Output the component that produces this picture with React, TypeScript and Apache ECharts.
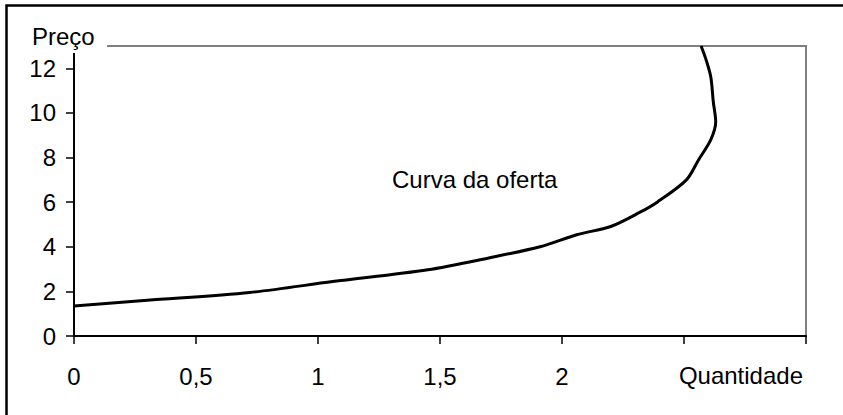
import React, { useEffect, useRef } from "react";
import * as echarts from "echarts";

const quantity: number[] = [0, 0.3, 0.72, 1.06, 1.45, 1.7, 1.91, 2.06, 2.2, 2.32, 2.39, 2.51, 2.56, 2.61, 2.63, 2.62, 2.61, 2.59, 2.57];
const price: number[] = [1.35, 1.6, 1.95, 2.44, 2.97, 3.5, 4.0, 4.54, 4.91, 5.55, 6.0, 7.0, 7.9, 8.8, 9.6, 10.5, 11.6, 12.4, 13];
const xTickLabels: Record<string, string> = { "0": "0", "0.5": "0,5", "1": "1", "1.5": "1,5", "2": "2" };
const yAxisTitle = "Preço";
const xAxisTitle = "Quantidade";
const curveLabel = "Curva da oferta";

const FONT = "'Liberation Sans', Arial, sans-serif";
const FS = 24;

export default function App() {
  const ref = useRef<HTMLDivElement>(null);
  useEffect(() => {
    if (!ref.current) return;
    const chart = echarts.init(ref.current, undefined, { renderer: "svg" });
    const data = quantity.map((q, i) => [q, price[i]]);
    chart.setOption({
      animation: false,
      backgroundColor: "#ffffff",
      textStyle: { fontFamily: FONT },
      grid: {
        left: 74,
        right: 37,
        top: 46,
        bottom: 79,
        show: true,
        borderColor: "#808080",
        borderWidth: 2,
        backgroundColor: "transparent",
      },
      xAxis: {
        type: "value",
        min: 0,
        max: 3,
        interval: 0.5,
        splitLine: { show: false },
        axisLine: { show: true, onZero: false, lineStyle: { color: "#000", width: 2 } },
        axisTick: { show: true, length: 8, lineStyle: { color: "#000", width: 1.5 } },
        axisLabel: {
          color: "#000",
          fontSize: FS,
          fontFamily: FONT,
          margin: 28,
          formatter: (v: number) => xTickLabels[String(v)] ?? "",
        },
        name: xAxisTitle,
        nameLocation: "end",
        nameGap: -3,
        nameTextStyle: {
          color: "#000",
          fontSize: FS,
          fontFamily: FONT,
          align: "right",
          verticalAlign: "top",
          padding: [27, 0, 0, 0],
        },
      },
      yAxis: {
        type: "value",
        min: 0,
        max: 13,
        interval: 2,
        splitLine: { show: false },
        axisLine: { show: true, onZero: false, lineStyle: { color: "#000", width: 2 } },
        axisTick: { show: true, length: 8, lineStyle: { color: "#000", width: 1.5 } },
        axisLabel: {
          color: "#000",
          fontSize: FS,
          fontFamily: FONT,
          margin: 18,
          formatter: (v: number) => (v % 2 === 0 ? String(v) : ""),
        },
      },
      series: [
        {
          type: "line",
          data,
          smooth: 0.3,
          symbol: "none",
          lineStyle: { color: "#000", width: 3 },
          z: 5,
        },
      ],
      graphic: [
        {
          type: "rect",
          shape: { x: 6.5, y: 5.5, width: 860, height: 430 },
          style: { fill: "none", stroke: "#000", lineWidth: 2.5 },
          z: 100,
        },
        {
          type: "rect",
          shape: { x: 26, y: 18, width: 81, height: 35 },
          style: { fill: "#fff" },
          z: 100,
        },
        {
          type: "text",
          x: 32,
          y: 36,
          style: { text: yAxisTitle, fill: "#000", font: `${FS}px ${FONT}`, verticalAlign: "middle", align: "left" },
          z: 101,
        },
        {
          type: "text",
          x: 392,
          y: 179,
          style: { text: curveLabel, fill: "#000", font: `${FS}px ${FONT}`, verticalAlign: "middle", align: "left" },
          z: 101,
        },
      ],
    });
    return () => chart.dispose();
  }, []);
  return <div ref={ref} style={{ position: "fixed", left: 0, top: 0, width: 843, height: 415 }} />;
}
